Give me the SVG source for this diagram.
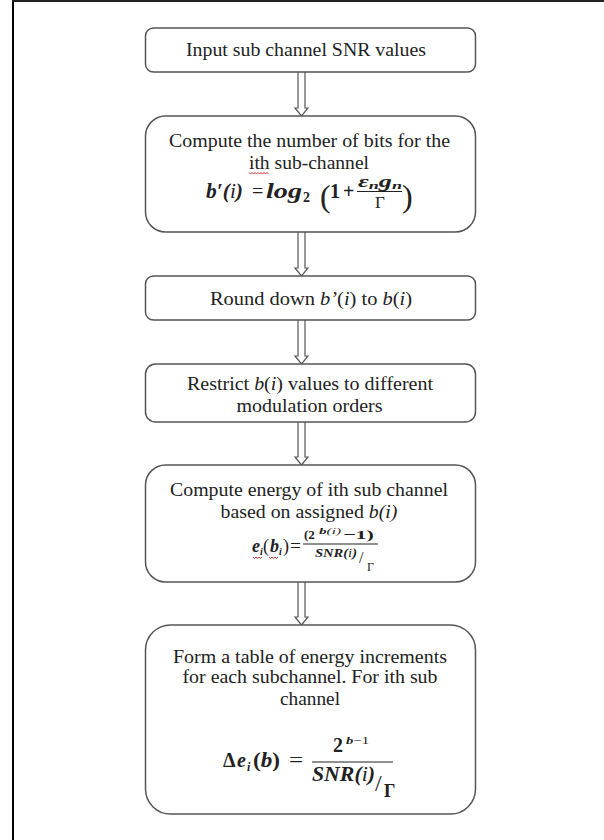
<svg xmlns="http://www.w3.org/2000/svg" width="604" height="840" viewBox="0 0 604 840">
<style>
.box{fill:#fff;stroke:#555;stroke-width:1.5}
.arr{fill:#fff;stroke:#555;stroke-width:1.2;stroke-linejoin:miter}
.t{font-family:"Liberation Serif","Times New Roman",serif;font-size:18px;fill:#222;text-anchor:middle}
.m{font-family:"Liberation Serif","Times New Roman",serif;fill:#222;font-style:italic;font-weight:bold}
.r{font-family:"Liberation Serif","Times New Roman",serif;fill:#222}
.sq{fill:none;stroke:#d33;stroke-width:1}
</style>
<rect width="604" height="840" fill="#fff"/>
<line x1="13" y1="0" x2="13" y2="840" stroke="#000" stroke-width="2"/>
<line x1="12" y1="1" x2="604" y2="1" stroke="#222" stroke-width="2"/>
<g id="connectors">
<path class="arr" d="M298,72 V108 H295 L301.5,116 L308,108 H305 V72"/>
<path class="arr" d="M298,232 V268 H295 L301.5,276 L308,268 H305 V232"/>
<path class="arr" d="M298,320 V356 H295 L301.5,364 L308,356 H305 V320"/>
<path class="arr" d="M298,422 V457 H295 L301.5,465 L308,457 H305 V422"/>
<path class="arr" d="M298,582 V617 H295 L301.5,625 L308,617 H305 V582"/>
</g>
<g id="n1">
<rect class="box" x="145.5" y="28" width="330" height="44" rx="8"/>
<text class="t" x="306" y="56" textLength="240" lengthAdjust="spacingAndGlyphs">Input sub channel SNR values</text>
</g>
<g id="n2">
<rect class="box" x="145.5" y="116" width="330" height="116" rx="20"/>
<text class="t" x="309.5" y="147" textLength="281" lengthAdjust="spacingAndGlyphs">Compute the number of bits for the</text>
<text class="t" x="309" y="169" textLength="120" lengthAdjust="spacingAndGlyphs">ith sub-channel</text>
<path class="sq" d="M249,172.5 l1.5,1.5 l1.5,-1.5 l1.5,1.5 l1.5,-1.5 l1.5,1.5 l1.5,-1.5 l1.5,1.5 l1.5,-1.5 l1.5,1.5 l1.5,-1.5 l1.5,1.5 l1.5,-1.5 l1.5,1.5"/>
<text class="m" x="206" y="198" font-size="20" textLength="37" lengthAdjust="spacingAndGlyphs">b′(<tspan font-weight="normal">i</tspan>)</text>
<text class="r" x="252" y="198" font-size="20">=</text>
<text class="m" x="266" y="198" font-size="20" textLength="36" lengthAdjust="spacingAndGlyphs">log</text>
<text class="r" x="303" y="202" font-size="14" font-weight="bold">2</text>
<text class="r" x="320" y="207" font-size="32">(</text>
<text class="r" x="330" y="198" font-size="20" font-weight="bold">1</text>
<text class="r" x="343" y="198" font-size="20" font-weight="bold">+</text>
<text class="m" x="358" y="187" font-size="16" textLength="44" lengthAdjust="spacingAndGlyphs">ε<tspan font-size="11" dy="2">n</tspan><tspan dy="-2">g</tspan><tspan font-size="11" dy="2">n</tspan></text>
<line x1="357" y1="191.5" x2="402" y2="191.5" stroke="#222" stroke-width="1.2"/>
<text class="r" x="380" y="208" font-size="17" text-anchor="middle">Γ</text>
<text class="r" x="402" y="207" font-size="32">)</text>
</g>
<g id="n3">
<rect class="box" x="145.5" y="276" width="330" height="44" rx="8"/>
<text class="t" x="311" y="305" textLength="202" lengthAdjust="spacingAndGlyphs">Round down <tspan font-style="italic">b’</tspan>(<tspan font-style="italic">i</tspan>)  to <tspan font-style="italic">b</tspan>(<tspan font-style="italic">i</tspan>)</text>
</g>
<g id="n4">
<rect class="box" x="145.5" y="364" width="330" height="58" rx="10"/>
<text class="t" x="310" y="390" textLength="246" lengthAdjust="spacingAndGlyphs">Restrict <tspan font-style="italic">b</tspan>(<tspan font-style="italic">i</tspan>) values to different</text>
<text class="t" x="309.5" y="412" textLength="146" lengthAdjust="spacingAndGlyphs">modulation orders</text>
</g>
<g id="n5">
<rect class="box" x="145.5" y="465" width="330" height="117" rx="20"/>
<text class="t" x="309" y="496" textLength="278" lengthAdjust="spacingAndGlyphs">Compute energy of ith sub channel</text>
<text class="t" x="309" y="518" textLength="177" lengthAdjust="spacingAndGlyphs">based on assigned <tspan font-style="italic">b(i)</tspan></text>
<text class="m" x="252" y="552" font-size="18">e</text>
<text class="m" x="260" y="555" font-size="10">i</text>
<text class="r" x="263" y="552" font-size="18">(</text>
<text class="m" x="270" y="552" font-size="18">b</text>
<text class="m" x="279" y="555" font-size="10">i</text>
<text class="r" x="283" y="552" font-size="18">)</text>
<text class="r" x="290" y="552" font-size="18" textLength="11" lengthAdjust="spacingAndGlyphs">=</text>
<path class="sq" d="M253,557 l1.5,1.5 l1.5,-1.5 l1.5,1.5 l1.5,-1.5 l1.5,1.5 l1.5,-1.5 M269,557 l1.5,1.5 l1.5,-1.5 l1.5,1.5 l1.5,-1.5 l1.5,1.5 l1.5,-1.5"/>
<text class="r" x="304" y="539" font-size="13" font-weight="bold">(2</text>
<text class="m" x="319" y="534" font-size="9" textLength="22" lengthAdjust="spacingAndGlyphs">b<tspan font-weight="normal">(i)</tspan></text>
<text class="r" x="343" y="539" font-size="13" font-weight="bold" textLength="31" lengthAdjust="spacingAndGlyphs">−1)</text>
<line x1="303" y1="544" x2="378" y2="544" stroke="#222" stroke-width="1"/>
<text class="m" x="315" y="557" font-size="13" textLength="42" lengthAdjust="spacingAndGlyphs">SNR(<tspan font-weight="normal">i</tspan>)</text>
<text class="r" x="359" y="563" font-size="16">/</text>
<text class="r" x="367" y="571" font-size="12">Γ</text>
</g>
<g id="n6">
<rect class="box" x="145.5" y="625" width="330" height="189" rx="25"/>
<text class="t" x="310" y="663" textLength="274" lengthAdjust="spacingAndGlyphs">Form a table of energy increments</text>
<text class="t" x="310" y="683" textLength="255" lengthAdjust="spacingAndGlyphs">for each subchannel. For ith sub</text>
<text class="t" x="310" y="705" textLength="60" lengthAdjust="spacingAndGlyphs">channel</text>
<text class="r" x="223" y="767" font-size="20" font-weight="bold">Δ</text>
<text class="m" x="237" y="767" font-size="20">e</text>
<text class="m" x="247" y="771" font-size="12" font-weight="normal">i</text>
<text class="r" x="253" y="767" font-size="20" font-weight="bold" textLength="27" lengthAdjust="spacingAndGlyphs">(<tspan font-style="italic">b</tspan>)</text>
<text class="r" x="289" y="767" font-size="20" textLength="14" lengthAdjust="spacingAndGlyphs">=</text>
<text class="r" x="333" y="752" font-size="20" font-weight="bold">2</text>
<text class="m" x="346" y="744" font-size="11" textLength="23" lengthAdjust="spacingAndGlyphs">b<tspan font-weight="normal" font-style="normal">−1</tspan></text>
<line x1="312" y1="762" x2="393" y2="762" stroke="#222" stroke-width="1.2"/>
<text class="m" x="312" y="781" font-size="20" textLength="63" lengthAdjust="spacingAndGlyphs">SNR(<tspan font-weight="normal">i</tspan>)</text>
<text class="r" x="375" y="791" font-size="24">/</text>
<text class="r" x="384" y="797" font-size="18" font-weight="bold">Γ</text>
</g>
</svg>
